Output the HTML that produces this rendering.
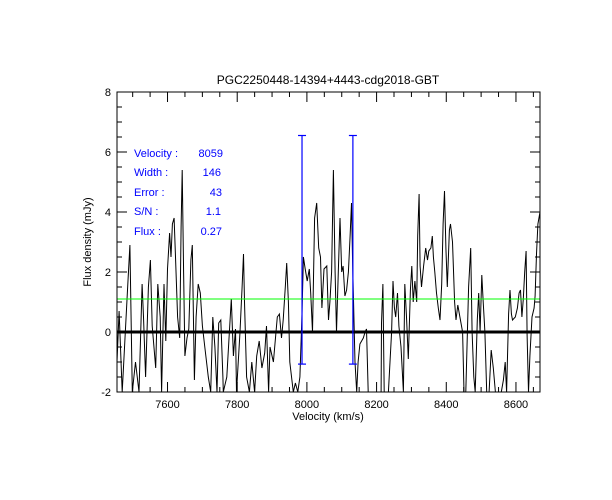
<!DOCTYPE html>
<html><head><meta charset="utf-8"><style>
html,body{margin:0;padding:0;background:#fff;}
svg{display:block;font-family:"Liberation Sans",sans-serif;}
</style></head><body>
<svg id="chart" width="612" height="500" viewBox="0 0 612 500" xmlns="http://www.w3.org/2000/svg">
<text x="328" y="84" font-size="12" text-anchor="middle">PGC2250448-14394+4443-cdg2018-GBT</text>
<text x="328" y="420" font-size="11" text-anchor="middle">Velocity (km/s)</text>
<text x="91" y="242" font-size="11" text-anchor="middle" transform="rotate(-90 91 242)">Flux density (mJy)</text>
<g id="ticks"></g>
<g id="marks"></g>
<rect x="117" y="92" width="423" height="300" fill="none" stroke="#000" stroke-width="1"/>
<g fill="#0000ff" font-size="11">
<text x="134" y="157">Velocity :</text><text x="223" y="157" text-anchor="end">8059</text>
<text x="134" y="176">Width :</text><text x="221" y="176" text-anchor="end">146</text>
<text x="134" y="196">Error :</text><text x="222" y="196" text-anchor="end">43</text>
<text x="134" y="215">S/N :</text><text x="221" y="215" text-anchor="end">1.1</text>
<text x="134" y="235">Flux :</text><text x="222" y="235" text-anchor="end">0.27</text>
</g>
</svg>
<script>
const velocities=[7455,7461,7470,7485,7492,7499,7508,7518,7527,7531,7537,7545,7551,7556,7566,7572,7579,7583,7590,7595,7600,7606,7610,7614,7619,7623,7629,7635,7639,7642,7646,7650,7656,7661,7667,7671,7677,7682,7688,7694,7700,7707,7717,7724,7730,7736,7742,7747,7753,7759,
7760,7770,7777,7783,7789,7795,7798,7808,7814,7818,7821,7827,7835,7842,7850,7856,7863,7871,7879,7884,7890,7894,7904,7915,7921,7927,7932,7938,7942,7947,7951,7961,7967,7974,7980,7986,7990,7995,8001,8007,8011,8016,8022,8028,8034,8039,8043,8049,8057,8062,
8066,8071,8076,8081,8085,8090,8095,8100,8104,8109,8114,8119,8124,8128,8131,8135,8138,8143,8147,8152,8162,8167,8171,8176,8213,8214,8218,8222,8234,8243,8247,8251,8255,8260,8264,8270,8277,8281,8286,8291,8297,8301,8305,8310,8315,8318,8322,8325,8329,8335,8341,8346,8350,8356,8360,
8363,8367,8372,8377,8382,8387,8391,8395,8399,8403,8409,8412,8418,8424,8428,8433,8439,8447,8451,8456,8464,8470,8474,8479,8483,8489,8493,8497,8502,8506,8511,8516,8523,8529,8535,8541,8548,8558,8564,8569,8573,8579,8583,8587,8590,8598,8604,8609,8613,8617,8621,8625,8629,8632,8636,8640,8646,8652,8655,8659,8663,8669];
const fluxes=[-1,0.7,-2,1.4,2.9,-2,-1,-2,1.6,0.5,-1.5,1.5,2.4,0.2,-1.2,1.6,0.5,-2,1.6,-0.3,2.1,3.3,2.5,3.6,3.8,2.5,0.5,-0.2,3.5,5.4,2.0,-0.8,-0.2,0.1,2.4,2.9,-1.6,0.5,1.6,1.3,0.2,-0.5,-1.5,-2,0.5,-0.5,-2,0.3,0.4,-1.5,
-2,-1.5,-0.1,1.1,-0.8,0.1,-2,0.0,1.5,2.6,1.0,-1.5,-2,-1,-2,-0.8,-0.3,-1.2,-0.7,0.2,-2,-0.5,-1,0.5,0.6,-0.2,0.4,1.5,2.3,1.0,-1,-2,-1.7,-2,-1.5,0.6,2.5,2.1,1.7,2.1,1.3,0.0,3.8,4.3,2.8,2.5,0.8,2.1,2.2,0.4,
1.0,2.0,5.4,2.0,0.0,2.0,3.8,2.0,2.2,1.2,1.4,2.0,3.2,4.3,2.5,0.5,-1,-2,-1,-0.4,-0.2,0,0.1,-2,-2,0.3,1.6,-2,-2,0,1.7,0.8,0.5,1.3,0.2,-0.5,-2,1.6,0.5,-0.9,1.4,2.2,1.0,1.7,1.0,3.2,4.6,2.2,1.5,2.2,2.8,2.4,2.7,2.8,3.2,
2.5,2.0,1.3,0.8,0.4,1.6,3.6,4.7,2.8,1.5,3.4,3.6,3.0,1.0,0.4,0.9,0.5,0,-2,-2,1.5,2.8,0,-1.5,-2,0.4,1.3,0,1.9,1.0,0,-2,-2,-0.6,-1.2,-2,-2,-2,-1.6,-1.0,-2,0.6,1.4,0.6,0.4,0.5,0.8,1.3,1.4,0.5,1.1,2.0,2.7,-0.1,-2,-0.8,0.5,0.8,1.2,2.6,3.6,4.0];
const xTickLabels=[7600,7800,8000,8200,8400,8600];
const yTickLabels=[-2,0,2,4,6,8];
const markerVels=[7986,8132];
const markerRange=[6.55,-1.07];
const rmsLevel=[1.1];
const xMin=7455,xMax=8669,yMin=-2,yMax=8;
const L=117,R=540,T=92,B=392;
const sx=v=>L+(v-xMin)/(xMax-xMin)*(R-L);
const sy=v=>B-(v-yMin)/(yMax-yMin)*(B-T);
const NS="http://www.w3.org/2000/svg";
const svg=document.getElementById('chart');
const tg=document.getElementById('ticks'), mg=document.getElementById('marks');
function mk(tag,attrs,parent){const e=document.createElementNS(NS,tag);for(const k in attrs)e.setAttribute(k,attrs[k]);parent.appendChild(e);return e;}
for(let v=7500;v<=xMax;v+=50){
  const x=sx(v);const major=v%200===0;const len=major?10:5;
  const t1=mk('line',{x1:x,x2:x,y1:B,y2:B-len,stroke:'#000'},tg);
  
  
  const t2=mk('line',{x1:x,x2:x,y1:T,y2:T+len,stroke:'#000'},tg);
  
  
}
xTickLabels.forEach(v=>{
  const t=mk('text',{x:sx(v),y:408,'font-size':11,'text-anchor':'middle'},tg);t.textContent=v;
  
  
});
for(let v=yMin;v<=yMax;v+=0.5){
  const y=sy(v);const major=Math.abs(v%2)<1e-9;const len=major?10:5;
  const t1=mk('line',{x1:L,x2:L+len,y1:y,y2:y,stroke:'#000'},tg);
  
  
  const t2=mk('line',{x1:R,x2:R-len,y1:y,y2:y,stroke:'#000'},tg);
  
  
}
yTickLabels.forEach(v=>{
  const t=mk('text',{x:111,y:sy(v)+4,'font-size':11,'text-anchor':'end'},tg);t.textContent=v;
  
  
});
const defs=mk('defs',{},svg);
const cp=mk('clipPath',{id:'clip'},defs);
mk('rect',{x:L,y:T,width:R-L,height:B-T},cp);
const pts=velocities.map((v,i)=>sx(v).toFixed(1)+','+sy(Math.max(yMin,fluxes[i])).toFixed(1)).join(' ');
const sp=mk('polyline',{points:pts,fill:'none',stroke:'#000','stroke-width':1,'clip-path':'url(#clip)'},mg);


const zl=mk('line',{x1:L,x2:R,y1:sy(0),y2:sy(0),stroke:'#000','stroke-width':3},mg);


rmsLevel.forEach(r=>{
  const g=mk('line',{x1:L,x2:R,y1:sy(r),y2:sy(r),stroke:'#00ff00','stroke-width':1},mg);
  
  
});
markerVels.forEach(v=>{
  const x=sx(v);
  const l=mk('line',{x1:x,x2:x,y1:sy(markerRange[0]),y2:sy(markerRange[1]),stroke:'#0000ff','stroke-width':1.2},mg);
  
  
  markerRange.forEach(m=>{
    const c=mk('line',{x1:x-4,x2:x+4,y1:sy(m),y2:sy(m),stroke:'#0000ff','stroke-width':1.2},mg);
    
    
  });
});
</script>
</body></html>
